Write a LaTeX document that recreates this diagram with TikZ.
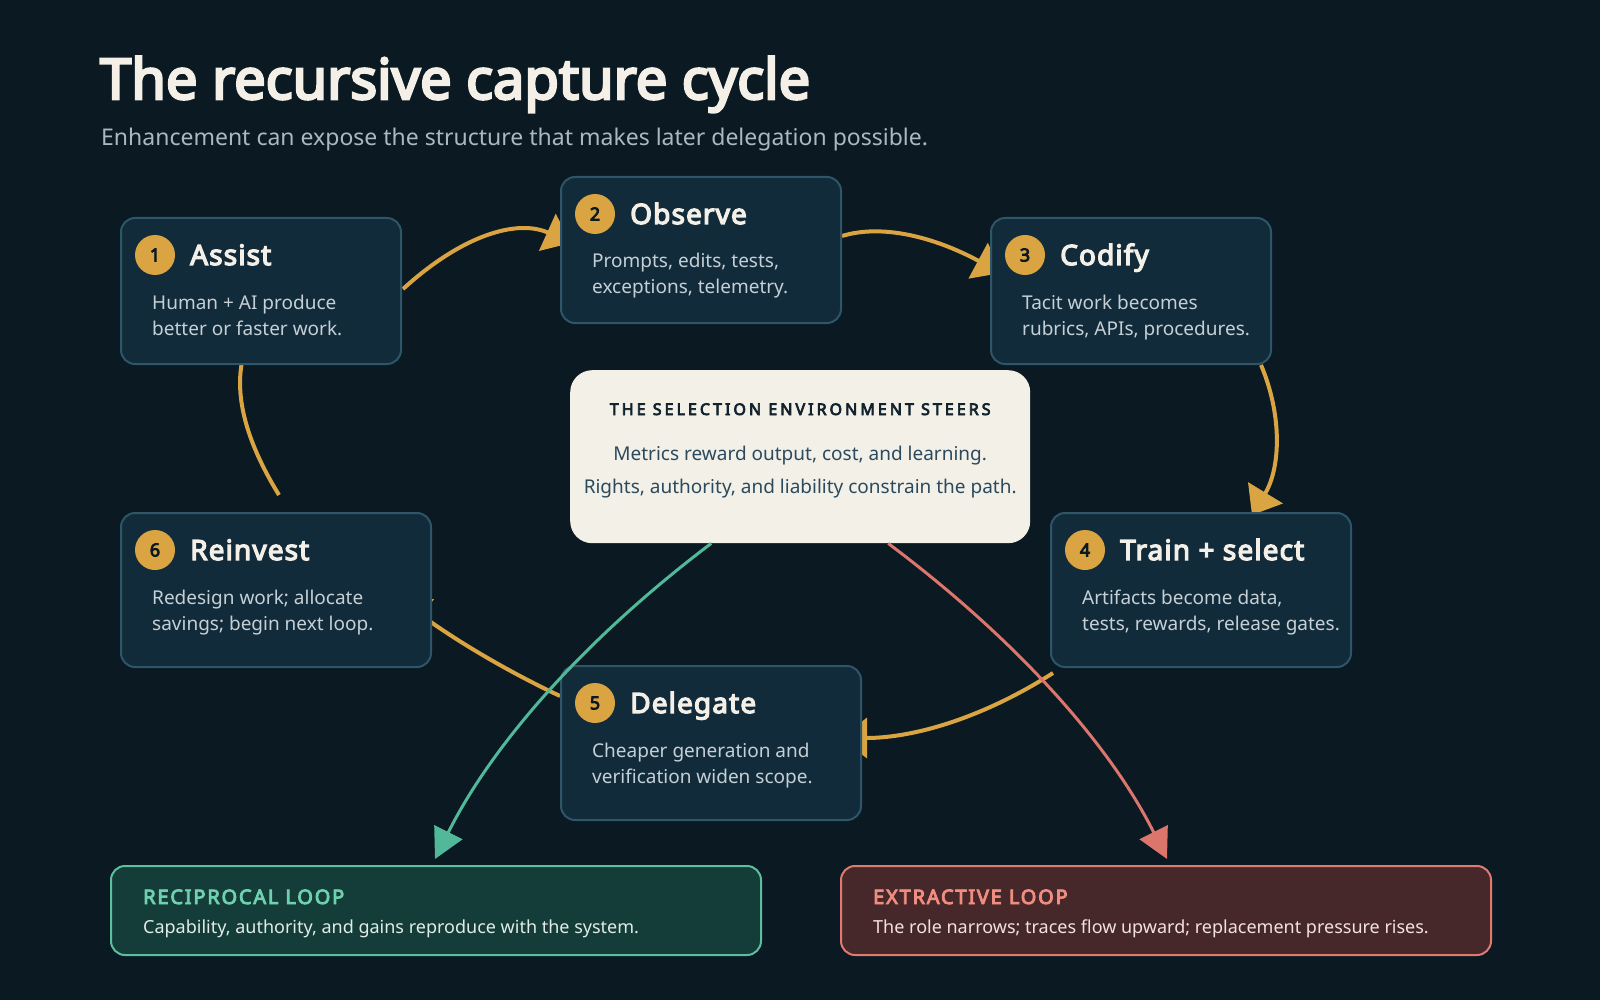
\documentclass[tikz,border=0pt]{standalone}
\usepackage{fontspec}
\setmainfont{Noto Sans}[BoldFont={Noto Sans}, BoldFeatures={FakeBold=4.5}]
\usetikzlibrary{arrows.meta}
\definecolor{bg}{HTML}{0A1922}
\definecolor{boxfill}{HTML}{122B3A}
\definecolor{boxline}{HTML}{2E5568}
\definecolor{gold}{HTML}{D9A441}
\definecolor{cream}{HTML}{F4F0E8}
\definecolor{envfill}{HTML}{F3F0E8}
\definecolor{bodytxt}{HTML}{C5D0D6}
\definecolor{subtxt}{HTML}{A9B8C2}
\definecolor{cgreen}{HTML}{52B89A}
\definecolor{cred}{HTML}{DC756B}
\definecolor{recfill}{HTML}{143C38}
\definecolor{recline}{HTML}{5CC0A0}
\definecolor{rechead}{HTML}{6FD0B0}
\definecolor{recbody}{HTML}{E0ECE8}
\definecolor{extfill}{HTML}{46282B}
\definecolor{extline}{HTML}{E07A70}
\definecolor{exthead}{HTML}{F08C80}
\definecolor{extbody}{HTML}{F2E2DE}
\definecolor{envtxt}{HTML}{2B4A5E}
\definecolor{envhead}{HTML}{12232E}
\newcommand\mkstage[9]{%
 \node[stagebox, minimum width=#4pt, minimum height=#5pt] (#1) at (#2,#3) {};
 \node[numcirc] (#1-n) at ([shift={(35,38)}]#1.north west) {#6};
 \node[stagetitle] (#1-t) at ([shift={(70,48)}]#1.north west) {#7};
 \node[stagebody] (#1-a) at ([shift={(32,92)}]#1.north west) {#8};
 \node[stagebody] (#1-b) at ([shift={(32,118)}]#1.north west) {#9};
}
\begin{document}
\begin{tikzpicture}[x=1pt,y=-1pt,
 stagebox/.style={draw=boxline, line width=2pt, fill=boxfill, rounded corners=14pt, anchor=north west, inner sep=0pt},
 numcirc/.style={circle, fill=gold, minimum size=40pt, inner sep=0pt, text=bg, font=\fontsize{18}{20}\selectfont\bfseries},
 stagetitle/.style={anchor=base west, inner sep=0pt, text=cream, font=\fontsize{28}{34}\selectfont\bfseries\addfontfeature{LetterSpace=4}},
 stagebody/.style={anchor=base west, inner sep=0pt, text=bodytxt, font=\fontsize{19}{24}\selectfont},
 goldarrow/.style={draw=gold, line width=4pt, -{Triangle[length=26pt,width=40pt]}},
 outarrow/.style={line width=3pt, -{Triangle[length=30pt,width=31pt]}},
 loopbox/.style={line width=2pt, rounded corners=14pt, anchor=north west, inner sep=0pt, minimum width=650pt, minimum height=89pt},
 loophead/.style={anchor=base west, inner sep=0pt, font=\fontsize{20}{24}\selectfont\bfseries\addfontfeature{LetterSpace=9}},
 loopbody/.style={anchor=base west, inner sep=0pt, font=\fontsize{18}{22}\selectfont},
 plain/.style={inner sep=0pt}
]
\useasboundingbox (0,0) rectangle (1600,1000);
\fill[bg] (0,0) rectangle (1600,1000);

\node[plain, anchor=base west, text=cream, font=\fontsize{56}{64}\selectfont\bfseries] (title) at (100,99) {The recursive capture cycle};
\node[plain, anchor=base west, text=subtxt, font=\fontsize{23}{27}\selectfont] (subtitle) at (101,146) {Enhancement can expose the structure that makes later delegation possible.};

\begin{scope}[opacity=0]
\node[stagebox, minimum width=280pt, minimum height=146pt] (assist) at (120,217) {};
\node[stagebox, minimum width=280pt, minimum height=146pt] (observe) at (560,176) {};
\node[stagebox, minimum width=280pt, minimum height=146pt] (codify) at (990,217) {};
\node[stagebox, minimum width=300pt, minimum height=154pt] (train) at (1050,512) {};
\node[stagebox, minimum width=300pt, minimum height=154pt] (delegate) at (560,665) {};
\node[stagebox, minimum width=310pt, minimum height=154pt] (reinvest) at (120,512) {};
\end{scope}

\draw[goldarrow] ([shift={(1,-2)}]assist.east) .. controls +(60,-54.7) and +(-53.3,-24) .. ([shift={(11,-7)}]observe.west);
\draw[goldarrow] ([shift={(0,-14)}]observe.east) .. controls +(39.3,-12) and +(-68,-36.7) .. ([shift={(11,-18)}]codify.west);
\draw[goldarrow] ([shift={(-11,0)}]codify.south east) .. controls +(22,52) and +(28,-46) .. ([shift={(51,3)}]train.north);
\draw[goldarrow] ([shift={(3,5)}]train.south west) .. controls +(-68.7,44) and +(74,0) .. ([shift={(-21,-5)}]delegate.east);
\draw[goldarrow] ([shift={(0,-47)}]delegate.west) .. controls +(-58,-27.3) and +(49.3,36.7) .. ([shift={(-31,10)}]reinvest.east);
\draw[goldarrow] ([shift={(3,-17)}]reinvest.north) .. controls +(-43,-70) and +(-12,50) .. ([shift={(-12,-33)}]assist.south);

\mkstage{assist}{120}{217}{280}{146}{1}{Assist}{Human + AI produce}{better or faster work.}
\mkstage{observe}{560}{176}{280}{146}{2}{Observe}{Prompts, edits, tests,}{exceptions, telemetry.}
\mkstage{codify}{990}{217}{280}{146}{3}{Codify}{Tacit work becomes}{rubrics, APIs, procedures.}
\mkstage{train}{1050}{512}{300}{154}{4}{Train + select}{Artifacts become data,}{tests, rewards, release gates.}
\mkstage{delegate}{560}{665}{300}{154}{5}{Delegate}{Cheaper generation and}{verification widen scope.}
\mkstage{reinvest}{120}{512}{310}{154}{6}{Reinvest}{Redesign work; allocate}{savings; begin next loop.}

\node[fill=envfill, rounded corners=22pt, anchor=north west, inner sep=0pt, minimum width=460pt, minimum height=173pt] (env) at (570,370) {};
\node[plain, anchor=base, text=envhead, font=\fontsize{16}{20}\selectfont\bfseries\addfontfeature{LetterSpace=19}] (envh) at ([shift={(0,45)}]env.north) {THE SELECTION ENVIRONMENT STEERS};
\node[plain, anchor=base, text=envtxt, font=\fontsize{19}{23}\selectfont] (envl1) at ([shift={(0,90)}]env.north) {Metrics reward output, cost, and learning.};
\node[plain, anchor=base, text=envtxt, font=\fontsize{19}{23}\selectfont] (envl2) at ([shift={(0,123)}]env.north) {Rights, authority, and liability constrain the path.};

\node[loopbox, draw=recline, fill=recfill] (recip) at (110,865) {};
\node[loophead, text=rechead] (reciph) at ([shift={(33,39)}]recip.north west) {RECIPROCAL LOOP};
\node[loopbody, text=recbody] (recipb) at ([shift={(33,68)}]recip.north west) {Capability, authority, and gains reproduce with the system.};
\node[loopbox, draw=extline, fill=extfill] (extract) at (840,865) {};
\node[loophead, text=exthead] (extracth) at ([shift={(33,39)}]extract.north west) {EXTRACTIVE LOOP};
\node[loopbody, text=extbody] (extractb) at ([shift={(33,68)}]extract.north west) {The role narrows; traces flow upward; replacement pressure rises.};

\draw[outarrow, draw=cgreen] ([shift={(-89,0)}]env.south) .. controls +(-127,96) and +(57.3,-114.7) .. ([shift={(-1,-6)}]recip.north);
\draw[outarrow, draw=cred] ([shift={(88,0)}]env.south) .. controls +(128,96) and +(-57.3,-114.7) .. ([shift={(1,-6)}]extract.north);
\end{tikzpicture}
\end{document}
